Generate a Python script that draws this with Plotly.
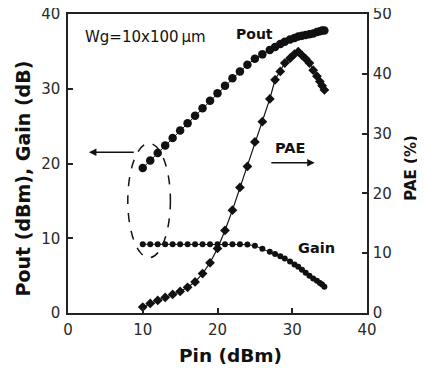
import plotly.graph_objects as go

pin = [10, 11, 12, 13, 14, 15, 16, 17, 18, 19, 20, 21, 22, 23, 24, 25, 26, 27,
       27.7, 28.4, 29.0, 29.7, 30.3, 30.8, 31.3, 31.8, 32.3, 32.8, 33.3, 33.7, 34.0, 34.3]
pout = [19.4, 20.4, 21.4, 22.4, 23.4, 24.4, 25.4, 26.4, 27.4, 28.4, 29.4, 30.4, 31.4, 32.3, 33.2, 34.0, 34.6, 35.2,
        35.6, 36.0, 36.3, 36.6, 36.8, 37.0, 37.1, 37.2, 37.3, 37.4, 37.6, 37.7, 37.8, 37.8]
gain = [9.2, 9.2, 9.2, 9.2, 9.2, 9.2, 9.2, 9.2, 9.2, 9.2, 9.2, 9.2, 9.2, 9.2, 9.15, 9.0, 8.6, 8.2,
        7.9, 7.6, 7.3, 6.9, 6.5, 6.2, 5.8, 5.4, 5.0, 4.6, 4.3, 4.0, 3.8, 3.5]
pae = [1.0, 1.6, 2.1, 2.6, 3.1, 3.6, 4.3, 5.2, 6.6, 8.4, 10.8, 13.8, 17.2, 21.0, 24.5, 28.6, 32.0, 35.8,
       39.0, 40.4, 41.8, 42.6, 43.3, 43.7, 43.1, 42.5, 41.8, 40.6, 39.6, 38.7, 38.0, 37.3]

FONT = "DejaVu Sans, Arial, sans-serif"
INK = "#111111"
TICKC = "#2a2a2a"

fig = go.Figure()
fig.add_trace(go.Scatter(x=pin, y=pout, mode="lines+markers", name="Pout",
                         line=dict(color=INK, width=1),
                         marker=dict(symbol="circle", size=8.5, color=INK)))
fig.add_trace(go.Scatter(x=pin, y=gain, mode="lines+markers", name="Gain",
                         line=dict(color=INK, width=1),
                         marker=dict(symbol="circle", size=6, color=INK)))
fig.add_trace(go.Scatter(x=pin, y=pae, mode="lines+markers", name="PAE", yaxis="y2",
                         line=dict(color=INK, width=1.2),
                         marker=dict(symbol="diamond", size=7.5, color=INK)))

axis_common = dict(showgrid=False, zeroline=False, showline=True, linecolor="#222222",
                   linewidth=1.5, ticks="inside", ticklen=5, tickwidth=1.5, tickcolor="#222222",
                   automargin=False, ticklabeloverflow="allow",
                   tickfont=dict(family=FONT, size=15, color=TICKC))

fig.update_layout(
    width=425, height=368,
    margin=dict(l=60, r=66, t=6, b=63, autoexpand=False),
    paper_bgcolor="white", plot_bgcolor="white",
    showlegend=False,
    xaxis=dict(range=[0, 40], dtick=10, mirror=True, ticklabelstandoff=2, **axis_common),
    yaxis=dict(range=[0, 40], dtick=10, ticklabelstandoff=3, **axis_common),
    yaxis2=dict(range=[0, 50], dtick=10, overlaying="y", side="right", ticklabelstandoff=1, **axis_common),
)

# axis titles
fig.add_annotation(x=0.542, y=-0.1438, xref="paper", yref="paper", text="<b>Pin (dBm)</b>",
                   xanchor="center", yanchor="middle",
                   showarrow=False, font=dict(family=FONT, size=18.5, color=INK))
fig.add_annotation(x=-0.1505, y=0.45, xref="paper", yref="paper", text="<b>Pout (dBm), Gain (dB)</b>",
                   xanchor="center", yanchor="middle",
                   showarrow=False, textangle=-90, font=dict(family=FONT, size=19, color=INK))
fig.add_annotation(x=1.146, y=0.485, xref="paper", yref="paper", text="<b>PAE (%)</b>",
                   xanchor="center", yanchor="middle",
                   showarrow=False, textangle=-90, font=dict(family=FONT, size=15, color=INK))

fig.add_shape(type="circle", xref="x", yref="y", x0=8.0, x1=13.7, y0=7.4, y1=22.7,
              line=dict(color=INK, width=1.5, dash="dash"))

fig.add_annotation(x=2.05, y=36.9, xref="x", yref="y", text="Wg=10x100\u2009µm", showarrow=False,
                   xanchor="left", font=dict(family=FONT, size=15, color=INK))
fig.add_annotation(x=25.0, y=37.3, xref="x", yref="y", text="<b>Pout</b>", showarrow=False,
                   xanchor="center", font=dict(family=FONT, size=14, color=INK))
fig.add_annotation(x=29.7, y=22.1, xref="x", yref="y", text="<b>PAE</b>", showarrow=False,
                   xanchor="center", font=dict(family=FONT, size=14.5, color=INK))
fig.add_annotation(x=33.3, y=8.7, xref="x", yref="y", text="<b>Gain</b>", showarrow=False,
                   xanchor="center", font=dict(family=FONT, size=14.5, color=INK))
fig.add_annotation(x=2.8, y=21.5, ax=9.0, ay=21.5, xref="x", yref="y", axref="x", ayref="y",
                   text="", showarrow=True, arrowhead=2, arrowsize=1, arrowwidth=1.5, arrowcolor=INK)
fig.add_annotation(x=33.0, y=20.1, ax=27.0, ay=20.1, xref="x", yref="y", axref="x", ayref="y",
                   text="", showarrow=True, arrowhead=2, arrowsize=1, arrowwidth=1.5, arrowcolor=INK)

fig.write_html("out.html")
